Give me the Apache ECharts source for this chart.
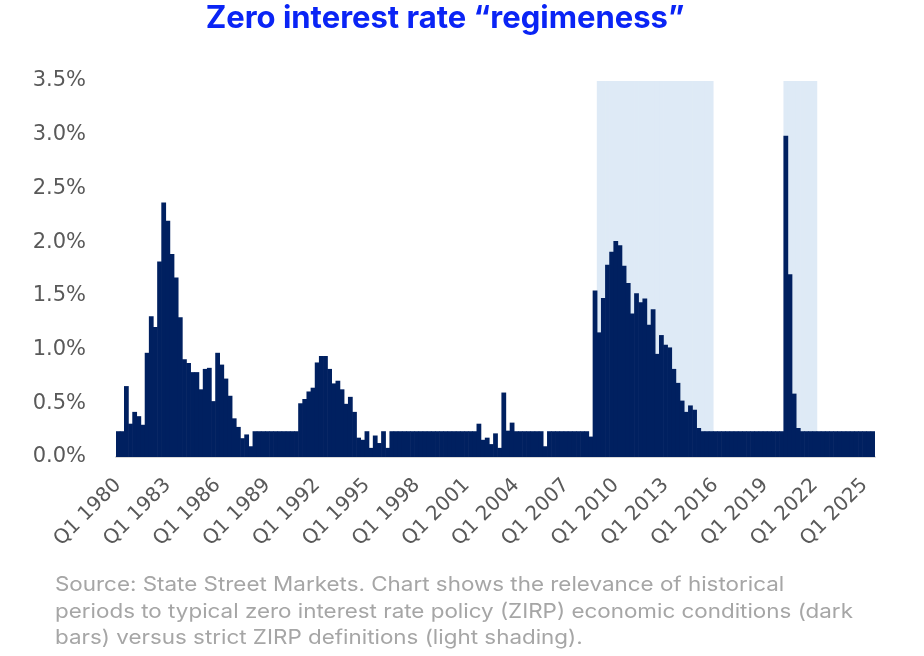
<!DOCTYPE html>
<html>
<head>
<meta charset="utf-8">
<script src="https://cdn.jsdelivr.net/npm/echarts@6/dist/echarts.min.js"></script>
<style>
  html, body { margin: 0; padding: 0; background: #fff; }
  #chart { width: 924px; height: 656px; }
</style>
</head>
<body>
<div id="chart"></div>
<script>
// quarterly, Q1 1980 .. Q3 2025, one row per year
let startYear = 1980;
let values = [
  0.24, 0.24, 0.66, 0.31,    // 1980
  0.42, 0.38, 0.30, 0.97,    // 1981
  1.31, 1.21, 1.82, 2.37,    // 1982
  2.20, 1.89, 1.67, 1.30,    // 1983
  0.91, 0.875, 0.79, 0.79,   // 1984
  0.63, 0.82, 0.83, 0.52,    // 1985
  0.97, 0.86, 0.73, 0.57,    // 1986
  0.36, 0.28, 0.175, 0.21,   // 1987
  0.10, 0.24, 0.24, 0.24,    // 1988
  0.24, 0.24, 0.24, 0.24,    // 1989
  0.24, 0.24, 0.24, 0.24,    // 1990
  0.50, 0.54, 0.61, 0.645,   // 1991
  0.88, 0.94, 0.94, 0.82,    // 1992
  0.685, 0.71, 0.63, 0.495,  // 1993
  0.56, 0.42, 0.18, 0.16,    // 1994
  0.24, 0.085, 0.20, 0.13,   // 1995
  0.24, 0.085, 0.24, 0.24,   // 1996
  0.24, 0.24, 0.24, 0.24,    // 1997
  0.24, 0.24, 0.24, 0.24,    // 1998
  0.24, 0.24, 0.24, 0.24,    // 1999
  0.24, 0.24, 0.24, 0.24,    // 2000
  0.24, 0.24, 0.24, 0.31,    // 2001
  0.16, 0.18, 0.12, 0.22,    // 2002
  0.085, 0.60, 0.245, 0.32,  // 2003
  0.24, 0.24, 0.24, 0.24,    // 2004
  0.24, 0.24, 0.24, 0.10,    // 2005
  0.24, 0.24, 0.24, 0.24,    // 2006
  0.24, 0.24, 0.24, 0.24,    // 2007
  0.24, 0.24, 0.19, 1.55,    // 2008
  1.16, 1.48, 1.79, 1.91,    // 2009
  2.01, 1.97, 1.78, 1.62,    // 2010
  1.335, 1.525, 1.44, 1.475, // 2011
  1.23, 1.375, 0.96, 1.135,  // 2012
  1.045, 1.02, 0.82, 0.69,   // 2013
  0.525, 0.42, 0.48, 0.44,   // 2014
  0.27, 0.24, 0.24, 0.24,    // 2015
  0.24, 0.24, 0.24, 0.24,    // 2016
  0.24, 0.24, 0.24, 0.24,    // 2017
  0.24, 0.24, 0.24, 0.24,    // 2018
  0.24, 0.24, 0.24, 0.24,    // 2019
  0.24, 2.99, 1.70, 0.59,    // 2020
  0.27, 0.24, 0.24, 0.24,    // 2021
  0.24, 0.24, 0.24, 0.24,    // 2022
  0.24, 0.24, 0.24, 0.24,    // 2023
  0.24, 0.24, 0.24, 0.24,    // 2024
  0.24, 0.24, 0.24           // 2025
];
// strict ZIRP periods (light shading)
let shadePeriods = [['Q1 2009', 'Q4 2015'], ['Q2 2020', 'Q1 2022']];
let yMax = 3.5;

let categories = values.map(function (v, i) {
  return 'Q' + (i % 4 + 1) + ' ' + (startYear + Math.floor(i / 4));
});
let shade = categories.map(function (c, i) {
  for (let p of shadePeriods) {
    if (i >= categories.indexOf(p[0]) && i <= categories.indexOf(p[1])) return yMax;
  }
  return null;
});

let footnote = 'Source: State Street Markets. Chart shows the relevance of historical\n' +
  'periods to typical zero interest rate policy (ZIRP) economic conditions (dark\n' +
  'bars) versus strict ZIRP definitions (light shading).';

let myc = echarts.init(document.getElementById('chart'));
let options = {
  animation: false,
  title: {
    text: 'Zero interest rate \u201cregimeness\u201d',
    left: 445,
    textAlign: 'center',
    top: 3,
    padding: 0,
    textStyle: { fontFamily: 'Inter', fontWeight: 'bold', fontSize: 31, color: '#0a24f5' }
  },
  graphic: [
    {
      type: 'text',
      left: 55,
      top: 572,
      scaleX: 1.12,
      style: {
        text: footnote,
        font: '20px Inter',
        lineHeight: 26.5,
        fill: '#a6a6a6'
      }
    }
  ],
  grid: { left: 116, right: 49, top: 81, bottom: 199 },
  xAxis: {
    type: 'category',
    data: categories,
    boundaryGap: true,
    axisLine: { lineStyle: { color: '#d9d9d9', width: 2 } },
    axisTick: { interval: 11, length: 8, lineStyle: { color: '#d9d9d9', width: 2 } },
    axisLabel: {
      interval: 11,
      rotate: 45,
      margin: 25,
      fontFamily: 'DejaVu Sans',
      fontSize: 20,
      color: '#595959'
    }
  },
  yAxis: {
    type: 'value',
    min: 0,
    max: yMax,
    interval: 0.5,
    axisLine: { show: false },
    axisTick: { show: false },
    splitLine: { show: false },
    axisLabel: {
      margin: 30,
      fontFamily: 'DejaVu Sans',
      fontSize: 21,
      color: '#595959',
      formatter: function (v) { return v.toFixed(1) + '%'; }
    }
  },
  series: [
    { // shading
      type: 'bar',
      data: shade,
      barGap: '-100%',
      barWidth: '115%',
      itemStyle: { color: '#deeaf6' },
      silent: true,
      z: 1
    },
    {
      type: 'bar',
      data: values,
      barGap: '-100%',
      barWidth: '115%',
      itemStyle: { color: '#002060' },
      z: 2
    }
  ]
};
myc.setOption(options);
</script>
</body>
</html>
